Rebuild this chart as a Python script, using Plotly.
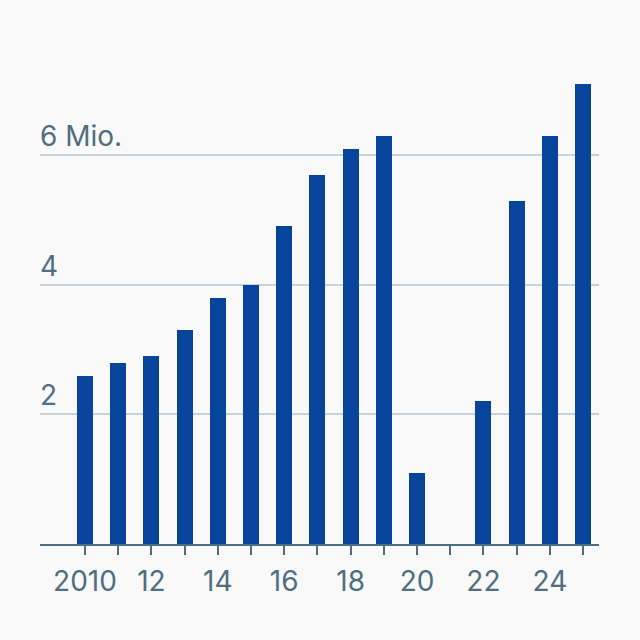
import plotly.graph_objects as go

years = list(range(2010, 2026))
values = [2.6, 2.8, 2.9, 3.3, 3.8, 4.0, 4.9, 5.7, 6.1, 6.3, 1.1, 0, 2.2, 5.3, 6.3, 7.1]
x_tick_vals = list(range(2010, 2026))
x_tick_text = ["2010" if y == 2010 else (f"{y % 100:02d}" if y % 2 == 0 else "") for y in x_tick_vals]
y_tick_vals = [2, 4, 6]
y_tick_text = ["2", "4", "6 Mio."]

BAR = "#07449b"
TEXT = "#4f6e80"
GRID = "#c6d1d9"
AXIS = "#4e6e7f"
BG = "#f9f9f9"
FONT = "Inter, Roboto, sans-serif"
FS = 28
WEIGHT = 400

fig = go.Figure(go.Bar(x=years, y=values, width=0.48, marker=dict(color=BAR, line=dict(width=0)),
                       hoverinfo="skip"))

fig.update_layout(
    width=640, height=640,
    paper_bgcolor=BG, plot_bgcolor=BG,
    margin=dict(l=40, r=41, t=58, b=96),
    font=dict(family=FONT, size=FS, color=TEXT, weight=WEIGHT),
    showlegend=False,
    bargap=0,
)
fig.update_xaxes(
    range=[2008.645, 2025.48], tickmode="array", tickvals=x_tick_vals, ticktext=x_tick_text,
    showgrid=False, zeroline=False, showline=True, linecolor=AXIS, linewidth=2,
    ticks="outside", ticklen=9, tickwidth=2, tickcolor=AXIS, ticklabelstandoff=2,
    tickfont=dict(family=FONT, size=FS, color=TEXT, weight=WEIGHT),
)
fig.update_yaxes(
    range=[0, 7.5], tickmode="array", tickvals=y_tick_vals,
    showgrid=True, gridcolor=GRID, gridwidth=2, zeroline=False, showline=False,
    showticklabels=False, ticks="",
)
for v, t in zip(y_tick_vals, y_tick_text):
    fig.add_annotation(x=0, xref="paper", y=v, yref="y", text=t, showarrow=False,
                       xanchor="left", yanchor="bottom", xshift=-2, yshift=0,
                       font=dict(family=FONT, size=FS, color=TEXT, weight=WEIGHT))

fig.write_html("out.html", config={"displayModeBar": False, "staticPlot": True},
               post_script="document.body.style.margin='0';document.body.style.overflow='hidden';")
